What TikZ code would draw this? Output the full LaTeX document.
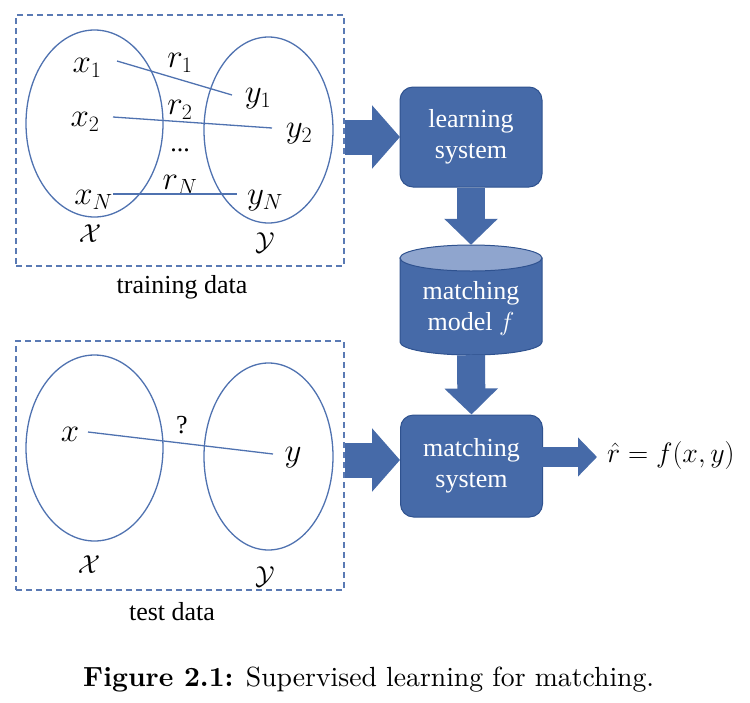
\RequirePackage{fix-cm}
\documentclass[tikz,border=0pt]{standalone}
\usepackage{fontspec}
\setmainfont{Liberation Serif}
\newfontfamily\capfont[Extension=.otf,BoldFont=lmroman10-bold]{lmroman10-regular}
\usetikzlibrary{arrows.meta,shapes.geometric}
\DeclareMathSizes{33}{33}{22}{16}
\DeclareMathSizes{28}{28}{19}{14}
\DeclareMathSizes{26}{26}{18}{13}
\definecolor{boxfill}{RGB}{70,106,168}
\definecolor{boxline}{RGB}{47,82,143}
\definecolor{cyltop}{RGB}{143,165,206}
\definecolor{setline}{RGB}{79,114,176}
\definecolor{dashcol}{RGB}{90,122,180}
\begin{document}
\begin{tikzpicture}[x=1pt,y=-1pt,
  databox/.style={draw=dashcol, dash pattern=on 6pt off 4pt, line width=1.3pt, minimum width=328pt, inner sep=0pt},
  setell/.style={ellipse, draw=setline, line width=1.3pt, inner sep=0pt},
  lbl/.style={inner sep=0pt, font=\fontsize{33}{35}\selectfont},
  reslbl/.style={inner sep=0pt, font=\fontsize{28}{30}\selectfont},
  callbl/.style={inner sep=0pt, font=\fontsize{26}{31}\selectfont},
  txt/.style={inner sep=0pt, font=\fontsize{26}{31}\selectfont},
  link/.style={draw=setline, line width=1.3pt},
  sysbox/.style={rounded corners=13pt, draw=boxline, line width=1pt, fill=boxfill, text=white, align=center, minimum width=142pt, inner sep=0pt, font=\fontsize{26}{31}\selectfont},
  harrow/.style={draw=boxfill, line width=35pt, -{Triangle[length=28pt,width=62pt]}},
  varrow/.style={draw=boxfill, line width=28pt, -{Triangle[length=26pt,width=52pt]}},
  outarrow/.style={draw=boxfill, line width=20pt, -{Triangle[length=19pt,width=38pt]}},
  cylbody/.style={fill=boxfill, draw=boxline, line width=1pt},
  cyltopst/.style={fill=cyltop, draw=boxline, line width=1pt}
]
\useasboundingbox (0,0) rectangle (750,702);

% ---------- training data ----------
\node[databox, minimum height=251pt] (trainbox) at (180,140.5) {};
\node[setell, minimum width=137pt, minimum height=187pt] (trX) at (94.5,123.5) {};
\node[setell, minimum width=129pt, minimum height=186pt] (trY) at (268.5,130) {};
\node[lbl] (x1) at (87,68) {$x_1$};
\node[lbl] (x2) at (85,122) {$x_2$};
\node[lbl] (xN) at (93.5,200) {$x_N$};
\node[lbl] (r1) at (180,63) {$r_1$};
\node[lbl] (r2) at (180,110) {$r_2$};
\node[txt] (dots) at (180,150) {...};
\node[lbl] (rN) at (180,185) {$r_N$};
\node[lbl] (y1) at (258,99) {$y_1$};
\node[lbl] (y2) at (299,134) {$y_2$};
\node[lbl] (yN) at (265,201) {$y_N$};
\node[callbl] (trXl) at (90,234) {$\mathcal{X}$};
\node[callbl] (trYl) at (265,243) {$\mathcal{Y}$};
\coordinate (l1a) at (117,61);  \coordinate (l1b) at (232,95);
\coordinate (l2a) at (113,117); \coordinate (l2b) at (272,128);
\coordinate (l3a) at (113,194); \coordinate (l3b) at (237,194);
\draw[link] (l1a) -- (l1b);
\draw[link] (l2a) -- (l2b);
\draw[link] (l3a) -- (l3b);
\node[txt] (trlabel) at (182,287) {training data};

% ---------- test data ----------
\node[databox, minimum height=249pt] (testbox) at (180,465.5) {};
\node[setell, minimum width=137pt, minimum height=186pt] (teX) at (94.5,448) {};
\node[setell, minimum width=129pt, minimum height=187pt] (teY) at (268.5,456.5) {};
\node[lbl] (tx) at (70,434) {$x$};
\node[lbl] (ty) at (293,458) {$y$};
\node[txt] (q) at (182,425) {?};
\node[callbl] (teXl) at (89,565) {$\mathcal{X}$};
\node[callbl] (teYl) at (265,577) {$\mathcal{Y}$};
\coordinate (t1a) at (88,432); \coordinate (t1b) at (273,454);
\draw[link] (t1a) -- (t1b);
\node[txt] (telabel) at (172,612) {test data};

% ---------- systems ----------
\node[sysbox, minimum height=100pt] (ls) at (471,137) {learning\\system};
\node[inner sep=0pt, minimum width=142pt, minimum height=110pt] (model) at (471,300) {};
\draw[cylbody] (400,258) -- (400,342) arc[start angle=180,end angle=360,x radius=71pt,y radius=13pt] -- (542,258) -- cycle;
\draw[cyltopst] (471,258) ellipse[x radius=71pt, y radius=13pt];
\node[txt, text=white, align=center] (modeltxt) at (471,309) {matching\\model $f$};
\node[sysbox, minimum height=102pt] (ms) at (471.5,466) {matching\\system};

% ---------- block arrows ----------
\coordinate (lsin) at (400,137);
\coordinate (msin) at (400,460);
\coordinate (msout) at (542,457);
\coordinate (outtip) at (597,457);
\draw[harrow] (trainbox.east |- lsin) -- (lsin);
\draw[varrow] (ls.south) -- (model.north);
\draw[varrow] (model.south) -- (ms.north);
\draw[harrow] (testbox.east |- msin) -- (msin);
\draw[outarrow] (msout) -- (outtip);
\node[reslbl, anchor=west] (rhat) at (607,455) {$\hat r = f(x,y)$};

% ---------- caption ----------
\node[inner sep=0pt, anchor=base west, font=\capfont\fontsize{27.7}{30}\selectfont] (cap) at (83,686) {\textbf{Figure 2.1:} Supervised learning for matching.};
\end{tikzpicture}
\end{document}
